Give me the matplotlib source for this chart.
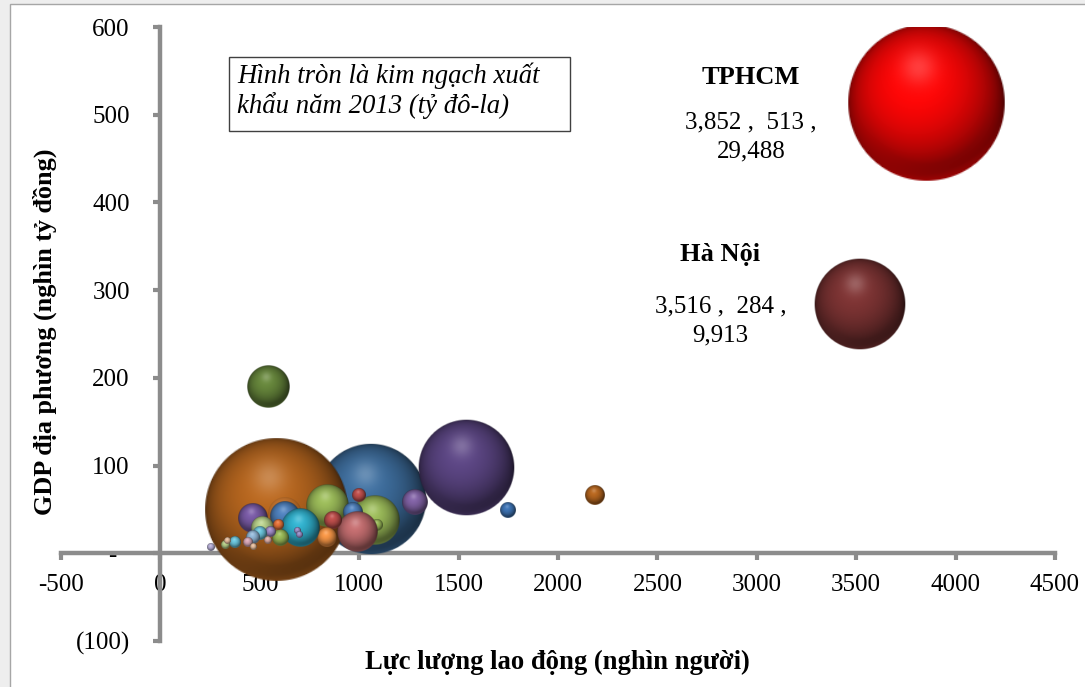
import numpy as np
import matplotlib
matplotlib.use("Agg")
import matplotlib.pyplot as plt
from matplotlib.colors import to_rgb
from matplotlib.patches import Rectangle

plt.rcParams['font.family'] = ['Liberation Serif', 'DejaVu Serif']

# lực lượng lao động (nghìn người), GDP (nghìn tỷ đồng), xuất khẩu (triệu USD)
labor = [1061, 583, 1539, 543, 3852, 3516, 2182, 1745, 1277,
         1081, 1091, 840, 970, 990, 870, 996, 840,
         628, 628, 468, 704, 689, 699, 603,
         513, 593, 553, 503, 468, 442, 538, 468,
         377, 327, 337, 251]
gdp = [62, 50, 97, 190, 513, 284, 66, 49, 58,
       38, 32, 55, 47, 24, 38, 66, 18,
       45, 43, 40, 29, 25, 21, 18,
       29, 32, 24, 23, 18, 13, 15, 7,
       13, 9, 14, 7]
export = [14800, 24800, 10900, 2180, 29488, 9913, 430, 270, 740,
          2950, 170, 2180, 470, 1890, 380, 200, 470,
          1360, 1060, 1060, 1710, 43, 43, 340,
          600, 120, 120, 230, 230, 118, 60, 43,
          170, 76, 43, 58]
colors = ['#3E6E9E', '#B8671F', '#5C4684', '#67873C', '#FF0606', '#7E3434',
          '#B8671F', '#3E74B5', '#8263A6',
          '#9BBB59', '#9BBB59', '#9BBB59', '#4F81BD', '#C46E70', '#C0504D',
          '#C0504D', '#F79646',
          '#E8944E', '#4F81BD', '#7A5BA6', '#31B2CF', '#9B8FC8', '#9B8FC8',
          '#9BBB59',
          '#B8D08A', '#E8743B', '#A08CC8', '#6CC6DD', '#93B8D8', '#D8A8B8',
          '#E0B0A8', '#E8C0A0',
          '#6CC6DD', '#B8D08A', '#E8C0A0', '#B8B0D8']
alphas = [1.0] * len(labor)
alphas[17] = 0.35

labelled = {4: 'TPHCM', 5: 'Hà Nội'}
label_offsets = {4: (-175, 26, -34), 5: (-139, 50, -17)}

D_MAX = 158  # pixel diameter of the largest bubble


def sphere(color, n=128):
    c = np.array(to_rgb(color))
    v, u = np.mgrid[-1:1:n * 1j, -1:1:n * 1j]
    r2 = u * u + v * v
    r = np.sqrt(r2)
    z = np.sqrt(np.clip(1 - r2, 0, 1))
    L = np.array([-0.2, 0.4, 0.9])
    L = L / np.linalg.norm(L)
    diff = np.clip(u * L[0] + v * L[1] + z * L[2], 0, 1)
    shade = (0.45 + 0.6 * diff) * (0.55 + 0.45 * z ** 0.6)
    rgb = c[None, None, :] * shade[..., None]
    hl = np.exp(-((u + 0.1) ** 2 + (v - 0.45) ** 2) / 0.05)
    rgb = rgb + (1 - rgb) * 0.22 * hl[..., None]
    # faint reflected light along the lower rim
    refl = np.clip(-v, 0, 1) * np.clip(r - 0.78, 0, 1) * 2.5
    rgb = rgb + (c[None, None, :] * 0.9 - rgb) * np.clip(refl, 0, 0.5)[..., None]
    rgb = np.clip(rgb, 0, 1)
    a = np.clip((1 - r) * n / 2, 0, 1)
    return np.dstack([rgb, a])


fig = plt.figure(figsize=(10.85, 6.87), dpi=100, facecolor='#EEEEEE')
fig.patches.append(Rectangle((10 / 1085, -0.01), 1.02, 1 - 4 / 687 + 0.01,
                             transform=fig.transFigure, facecolor='white',
                             edgecolor='#A6A6A6', linewidth=1.0, zorder=-5))
ax = fig.add_axes([61 / 1085, 46 / 687, 994 / 1085, 614 / 687])
ax.set_facecolor('none')
ax.set_xlim(-500, 4500)
ax.set_ylim(-100, 600)

p0 = ax.transData.transform((0, 0))
p1 = ax.transData.transform((1000, 100))
sx = (p1[0] - p0[0]) / 1000
sy = (p1[1] - p0[1]) / 100
smax = max(export)

for i, (x, y, s, col) in enumerate(zip(labor, gdp, export, colors)):
    rpx = D_MAX * np.sqrt(s / smax) / 2
    rx, ry = rpx / sx, rpx / sy
    ax.imshow(sphere(col), extent=(x - rx, x + rx, y - ry, y + ry),
              origin='lower', aspect='auto', interpolation='bilinear',
              zorder=3 + i * 0.01, alpha=alphas[i])

for i, name in labelled.items():
    dx, dy_t, dy_v = label_offsets[i]
    ax.annotate(name, (labor[i], gdp[i]), xytext=(dx, dy_t),
                textcoords='offset pixels', ha='center', va='center',
                fontsize=19, fontweight='bold', zorder=10)
    ax.annotate(f"{labor[i]:,} ,  {gdp[i]:,} ,\n{export[i]:,}",
                (labor[i], gdp[i]), xytext=(dx, dy_v),
                textcoords='offset pixels', ha='center', va='center',
                fontsize=18, linespacing=1.4, zorder=10)

ax.set_xlim(-500, 4500)
ax.set_ylim(-100, 600)

grey = '#8C8C8C'
for side in ('top', 'right'):
    ax.spines[side].set_visible(False)
ax.spines['left'].set_position(('data', 0))
ax.spines['bottom'].set_position(('data', 0))
for side in ('left', 'bottom'):
    ax.spines[side].set_color(grey)
    ax.spines[side].set_linewidth(3.2)
    ax.spines[side].set_zorder(2)

xticks = np.arange(-500, 4501, 500)
yticks = np.arange(-100, 601, 100)
ax.set_xticks(xticks)
ax.set_xticklabels([str(t) for t in xticks])
ax.set_yticks(yticks)
ax.set_yticklabels([f"({-t})" if t < 0 else ("-  " if t == 0 else str(t))
                    for t in yticks])
ax.tick_params(axis='x', direction='out', length=5, width=3, color=grey,
               pad=10, labelsize=18)
ax.tick_params(axis='y', direction='out', length=5, width=3, color=grey,
               pad=17, labelsize=18)

fig.text(557 / 1085, 1 - 662 / 687, 'Lực lượng lao động (nghìn người)',
         ha='center', va='center', fontsize=19.2, fontweight='bold')
fig.text(45 / 1085, 1 - 332 / 687, 'GDP địa phương (nghìn tỷ đồng)',
         ha='center', va='center', fontsize=18.8, fontweight='bold',
         rotation=90)

fig.patches.append(Rectangle((229 / 1085, 1 - 131 / 687), 341 / 1085,
                             74 / 687, transform=fig.transFigure,
                             facecolor='white', edgecolor='#404040',
                             linewidth=1.0, zorder=5))
fig.text(237 / 1085, 1 - 91 / 687,
         'Hình tròn là kim ngạch xuất\nkhẩu năm 2013 (tỷ đô-la)',
         ha='left', va='center', fontsize=19.3, style='italic',
         linespacing=1.15, zorder=6)

fig.savefig('out.png', dpi=100, facecolor=fig.get_facecolor())
